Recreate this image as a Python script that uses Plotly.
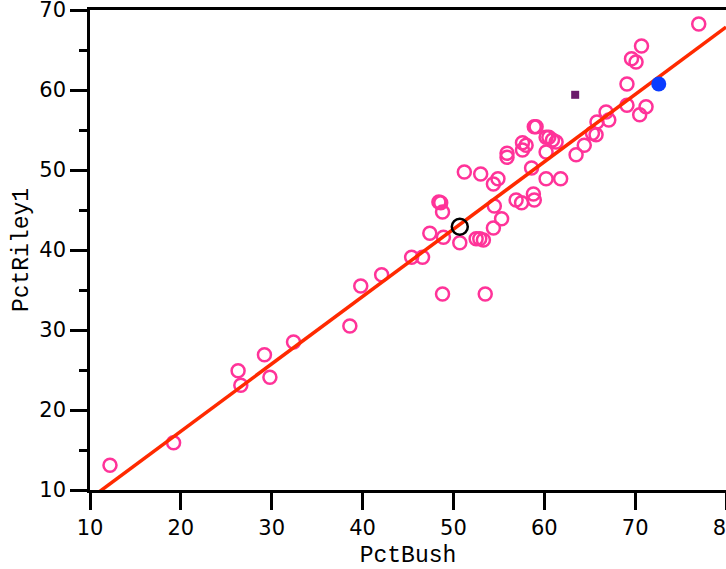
import plotly.graph_objects as go

# Main observations (open pink circles)
pct_bush = [12.2, 19.2, 26.3, 26.6, 29.2, 29.8, 32.4, 38.6, 39.8, 42.1,
            45.4, 46.6, 47.4, 48.9, 48.8, 53.5, 50.7, 52.5, 52.9, 53.3,
            54.4, 55.3, 48.4, 48.6, 48.8, 54.5, 56.9, 57.5, 58.8, 58.9,
            51.2, 53.0, 54.4, 54.9, 58.6, 60.2, 61.8,
            55.9, 55.9, 57.6, 58.0, 57.6, 58.9, 59.1, 60.2, 60.5, 60.9,
            61.3, 60.2, 63.5, 64.4, 65.3, 65.7, 65.8, 66.8, 67.1, 69.1,
            69.1, 70.5, 71.2, 69.6, 70.1, 70.7, 77.0]
pct_riley1 = [13.1, 15.9, 24.9, 23.1, 26.9, 24.1, 28.5, 30.5, 35.5, 36.9,
              39.1, 39.1, 42.1, 41.6, 34.5, 34.5, 40.9, 41.4, 41.4, 41.25,
              42.75, 43.9, 46.0, 45.9, 44.75, 45.5, 46.25, 45.9, 47.0, 46.25,
              49.75, 49.5, 48.25, 48.9, 50.25, 48.9, 48.9,
              52.1, 51.6, 53.4, 53.1, 52.5, 55.4, 55.4, 54.1, 54.1, 53.75,
              53.5, 52.25, 51.9, 53.1, 54.6, 54.4, 56.0, 57.25, 56.25, 58.1,
              60.75, 56.9, 57.9, 63.9, 63.5, 65.5, 68.25]

# Highlighted points
mean_x = [50.7]
mean_y = [42.9]
blue_x = [72.6]
blue_y = [60.75]
square_x = [63.4]
square_y = [59.4]

# Fitted line parameters
fit_slope = 0.842
fit_intercept = 0.5
fit_x = [10, 80]

x_ticks = [10, 20, 30, 40, 50, 60, 70, 80]
y_ticks = [10, 20, 30, 40, 50, 60, 70]

fit_y = [fit_intercept + fit_slope * v for v in fit_x]

fig = go.Figure()
fig.add_trace(go.Scatter(x=pct_bush, y=pct_riley1, mode="markers",
                         marker=dict(symbol="circle-open", size=13, color="#ff3399",
                                     line=dict(width=2.5, color="#ff3399")),
                         cliponaxis=False, showlegend=False))
fig.add_trace(go.Scatter(x=fit_x, y=fit_y, mode="lines",
                         line=dict(color="#ff2a00", width=3.5), showlegend=False))
fig.add_trace(go.Scatter(x=mean_x, y=mean_y, mode="markers",
                         marker=dict(symbol="circle-open", size=16, color="black",
                                     line=dict(width=2.5, color="black")),
                         showlegend=False))
fig.add_trace(go.Scatter(x=blue_x, y=blue_y, mode="markers",
                         marker=dict(symbol="circle", size=15, color="#0a3cff"),
                         showlegend=False))
fig.add_trace(go.Scatter(x=square_x, y=square_y, mode="markers",
                         marker=dict(symbol="square", size=8, color="#6b1a6b"),
                         showlegend=False))

fig.update_layout(
    width=726, height=569,
    margin=dict(l=90, r=0, t=10, b=79),
    plot_bgcolor="white", paper_bgcolor="white",
    font=dict(family="DejaVu Sans", size=21, color="black"),
)
fig.update_xaxes(
    range=[10, 80], tickvals=x_ticks, ticktext=[str(v) for v in x_ticks],
    showgrid=False, zeroline=False,
    showline=True, linecolor="black", linewidth=2.5, mirror=True,
    ticks="outside", ticklen=17, tickwidth=2.5, tickcolor="black",
    tickfont=dict(family="DejaVu Sans", size=21),
    ticklabeloverflow="allow",
    title=dict(text="PctBush", font=dict(family="Liberation Mono", size=23), standoff=12),
    automargin=False,
)
fig.update_yaxes(
    range=[10, 70], tickvals=y_ticks, ticktext=[str(v) for v in y_ticks],
    showgrid=False, zeroline=False,
    showline=True, linecolor="black", linewidth=2.5,
    ticks="outside", ticklen=17, tickwidth=2.5, tickcolor="black",
    tickfont=dict(family="DejaVu Sans", size=21),
    ticklabeloverflow="allow",
    minor=dict(dtick=5, tick0=5, ticks="outside", ticklen=8, tickwidth=2.5, tickcolor="black", showgrid=False),
    title=dict(text="PctRiley1", font=dict(family="Liberation Mono", size=23), standoff=5),
    automargin=False,
)

fig.write_html(
    "out.html",
    config={"displayModeBar": False},
    post_script="document.body.style.margin='0';document.documentElement.style.overflow='hidden';",
)
